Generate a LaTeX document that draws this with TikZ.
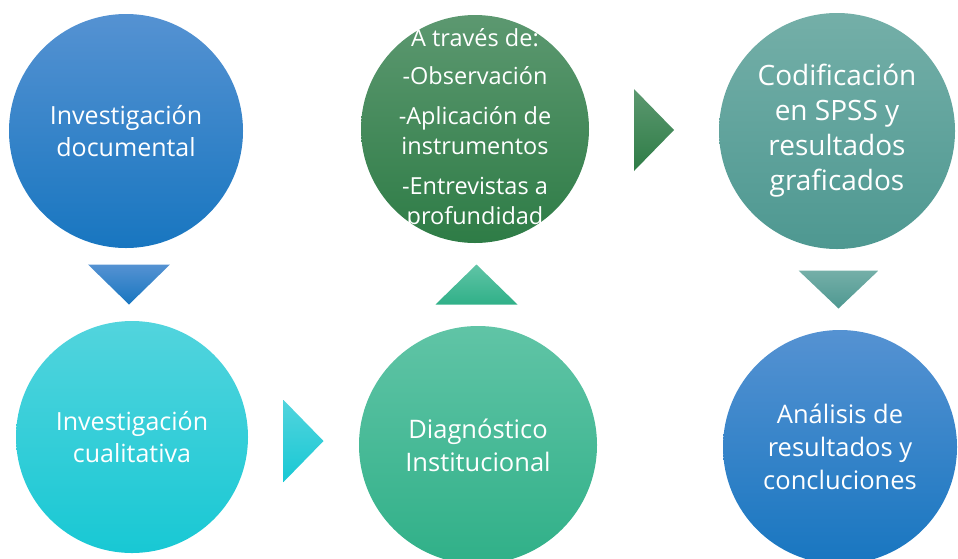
\documentclass[tikz,border=0pt]{standalone}
\usepackage{fontspec}
\setmainfont{Open Sans}
\usetikzlibrary{calc}

\definecolor{azulA}{RGB}{85,146,210}
\definecolor{azulB}{RGB}{24,118,192}
\definecolor{verdeA}{RGB}{92,152,112}
\definecolor{verdeB}{RGB}{46,124,70}
\definecolor{tealA}{RGB}{116,175,168}
\definecolor{tealB}{RGB}{78,152,145}
\definecolor{cianA}{RGB}{82,212,221}
\definecolor{cianB}{RGB}{24,200,212}
\definecolor{mentaA}{RGB}{96,196,166}
\definecolor{mentaB}{RGB}{48,176,136}

\tikzset{
  paso/.style={circle, inner sep=0pt, align=center, text=white},
  tamA/.style={font=\fontsize{25}{32}\selectfont},
  tamB/.style={font=\fontsize{25.5}{33}\selectfont},
}

\begin{document}
\begin{tikzpicture}[x=1pt, y=-1pt]
\useasboundingbox (0,0) rectangle (958,558);

% Nodes
\node[paso, tamA, minimum size=234pt, top color=azulA, bottom color=azulB] (doc) at (126,131) {Investigación\\documental};
\node[paso, tamA, minimum size=232pt, top color=cianA, bottom color=cianB] (cual) at (132,437) {Investigación\\cualitativa};
\node[paso, tamB, minimum size=238pt, top color=mentaA, bottom color=mentaB] (diag) at (478,445) {Diagnóstico\\Institucional};
\node[paso, minimum size=228pt, top color=verdeA, bottom color=verdeB] (obs) at (475,129) {};
\node[align=center, text=white, inner sep=0pt, font=\fontsize{23.5}{30}\selectfont] (obstxt) at (obs.center)
  {A través de:\\[8pt] -Observación\\[10pt] -Aplicación de\\ instrumentos\\[10pt] -Entrevistas a\\ profundidad};
\node[paso, minimum size=236pt, top color=tealA, bottom color=tealB, font=\fontsize{28}{35}\selectfont] (cod) at (837,131)
  {Codificación\\en SPSS y\\resultados\\graficados};
\node[paso, tamB, minimum size=234pt, top color=azulA, bottom color=azulB] (ana) at (840,447) {Análisis de\\resultados y\\concluciones};

% Arrows
\coordinate (t1) at ($(doc.south)!.5!(cual.north)$);
\coordinate (t2) at ($(cual.east)!.5!(diag.west)$);
\coordinate (t3) at ($(diag.north)!.5!(obs.south)$);
\coordinate (t4) at ($(obs.east)!.5!(cod.west)$);
\coordinate (t5) at ($(cod.south)!.5!(ana.north)$);

\path[top color=azulA, bottom color=azulB] ($(t1)+(-41,-20)$) -- ($(t1)+(41,-20)$) -- ($(t1)+(0,20)$) -- cycle;
\path[top color=cianA, bottom color=cianB] ($(t2)+(-20,-41)$) -- ($(t2)+(20,0)$) -- ($(t2)+(-20,41)$) -- cycle;
\path[top color=mentaA, bottom color=mentaB] ($(t3)+(-41,20)$) -- ($(t3)+(41,20)$) -- ($(t3)+(0,-20)$) -- cycle;
\path[top color=verdeA, bottom color=verdeB] ($(t4)+(-20,-41)$) -- ($(t4)+(20,0)$) -- ($(t4)+(-20,41)$) -- cycle;
\path[top color=tealA, bottom color=tealB] ($(t5)+(-40,-19)$) -- ($(t5)+(40,-19)$) -- ($(t5)+(0,19)$) -- cycle;

\end{tikzpicture}
\end{document}
